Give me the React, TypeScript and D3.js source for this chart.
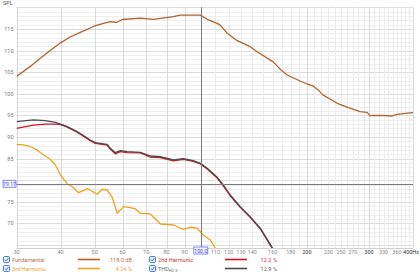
import React from "react";
import * as d3 from "d3";

// ---- data ----
const fundFreq = [30, 32.9, 35.1, 37.4, 40, 42.7, 45.5, 50, 53.6, 55.4, 57.6, 59.9, 67.4, 73.3, 83.6, 87.5, 99.7, 104.3, 111.3, 113.5, 118.9, 126.9, 138.1, 144.5, 160.5, 167.9, 175.8, 191.3, 200.3, 208.3, 215.2, 222.3, 232.7, 243.7, 260, 283, 296.3, 302, 322.5, 348.9, 360.3, 392, 400];
const fundDb = [104.0, 106.4, 108.3, 110.0, 111.8, 113.2, 114.2, 115.7, 116.4, 116.7, 116.5, 117.2, 117.5, 117.25, 117.85, 118.2, 118.2, 117.25, 116.3, 115.9, 114.0, 112.3, 110.9, 109.75, 107.4, 105.7, 104.35, 102.96, 102.27, 101.8, 100.9, 99.7, 98.8, 97.8, 96.9, 95.86, 95.7, 94.93, 95.0, 94.86, 95.25, 95.6, 95.65];

const thdFreq = [30, 33.5, 36.2, 38.7, 40, 41.8, 44.6, 48.6, 50.2, 51.9, 54.2, 55.4, 57.2, 59.1, 61.8, 67.4, 71.9, 76.8, 83.6, 89.2, 95.2, 99.7, 104.3, 111.3, 115.8, 121.2, 129.4, 138.1, 147.4, 157, 161];
const thdDb = [93.54, 93.94, 93.77, 93.4, 93.0, 92.38, 91.23, 89.31, 88.68, 88.54, 88.31, 87.38, 86.37, 86.83, 86.6, 86.46, 85.6, 85.44, 84.68, 84.98, 84.51, 83.91, 82.75, 80.67, 78.89, 76.57, 73.87, 71.55, 68.9, 65.3, 63.8];

const h2Freq = [30, 33.5, 36.2, 38.7, 40, 41.8, 44.6, 48.6, 50.2, 51.9, 54.2, 55.4, 57.2, 59.1, 61.8, 67.4, 71.9, 76.8, 83.6, 89.2, 95.2, 99.7, 104.3, 111.3, 115.8, 121.2, 129.4, 138.1, 147.4, 157, 161];
const h2Db = [92.0, 92.75, 93.0, 93.0, 92.85, 92.3, 91.1, 89.15, 88.5, 88.35, 88.1, 87.15, 86.1, 86.6, 86.4, 86.3, 85.35, 85.25, 84.5, 84.8, 84.35, 83.75, 82.6, 80.5, 78.7, 76.4, 73.7, 71.4, 68.75, 65.15, 63.7];

const h3Freq = [30, 31.4, 32.9, 34.3, 35.8, 37.4, 38.7, 40, 41.8, 43.2, 45.0, 47.8, 50.8, 52.5, 54.2, 56.0, 57.9, 59.1, 60.4, 63.1, 65.2, 67.4, 71.9, 76.8, 83.6, 89.2, 93.4, 97.7, 101.6, 106.4, 109.9];
const h3Db = [88.31, 88.15, 87.75, 87.0, 85.83, 84.84, 83.52, 81.2, 79.12, 78.5, 77.11, 78.03, 76.74, 77.9, 77.73, 76.18, 72.34, 73.1, 73.87, 73.63, 73.33, 72.34, 72.18, 69.86, 69.63, 68.63, 69.1, 68.87, 67.32, 66.16, 64.3];

const yTicks = [70, 75, 85, 90, 95, 100, 105, 110, 115];
const xTickLabels = [30, 40, 50, 60, 70, 80, 90, 110, 120, 130, 140, 160, 180, 200, 230, 250, 270, 300, 330, 360];
const xBoldTicks = [200, 300];
const majorX = [30, 40, 50, 60, 70, 80, 90, 100, 200, 300, 400];
const minorX = [110, 120, 130, 140, 150, 160, 170, 180, 190, 210, 220, 230, 240, 250, 260, 270, 280, 290, 310, 320, 330, 340, 350, 360, 370, 380, 390];
const cursorFreq = 100;
const cursorDb = 79.17;

const legendRows = [
  { name: "Fundamental", value: "118.0 dB", color: "#b3602c", text: "#b87048", col: 0, row: 0 },
  { name: "3rd Harmonic", value: "4.24 %", color: "#f2a11e", text: "#eea030", col: 0, row: 1 },
  { name: "2nd Harmonic", value: "12.2 %", color: "#d01620", text: "#d03040", col: 1, row: 0 },
  { name: "THD", value: "12.9 %", color: "#4a4a4a", text: "#666", col: 1, row: 1 },
];

const W = 420, H = 275;
const L = 16.5, R = 413, T = 7.4, B = 248;

export default function App() {
  const x = d3.scaleLog().domain([30, 400]).range([L, R]);
  const y = d3.scaleLinear().domain([64.3, 120]).range([B, T]);
  const line = d3.line<[number, number]>().x(d => x(d[0])).y(d => y(d[1]));
  const mk = (f: number[], v: number[]) => line(f.map((ff, i) => [ff, v[i]] as [number, number])) || "";

  const minorY: number[] = [];
  for (let v = 65; v <= 120; v++) if (v % 5 !== 0) minorY.push(v);
  const majorY: number[] = [];
  for (let v = 65; v <= 120; v += 5) majorY.push(v);

  const font = "Roboto, 'DejaVu Sans', sans-serif";

  return (
    <svg width={W} height={H} style={{ position: "absolute", left: 0, top: 0, background: "#fff" }} fontFamily={font}>
      <defs>
        <clipPath id="plot"><rect x={L} y={T - 1} width={R - L} height={B - T + 1} /></clipPath>
      </defs>
      <rect x={0} y={0} width={W} height={H} fill="#fff" />
      {/* grid */}
      {minorY.map(v => <line key={"my" + v} x1={L} x2={R} y1={Math.round(y(v)) + 0.5} y2={Math.round(y(v)) + 0.5} stroke="#efefef" />)}
      {majorY.map(v => <line key={"My" + v} x1={L} x2={R} y1={Math.round(y(v)) + 0.5} y2={Math.round(y(v)) + 0.5} stroke="#dcdcdc" />)}
      {minorX.map(v => <line key={"mx" + v} x1={Math.round(x(v)) + 0.5} x2={Math.round(x(v)) + 0.5} y1={T} y2={B} stroke="#ebebeb" />)}
      {majorX.map(v => <line key={"Mx" + v} x1={Math.round(x(v)) + 0.5} x2={Math.round(x(v)) + 0.5} y1={T} y2={B} stroke="#d9d9d9" />)}
      <line x1={L} x2={R} y1={B + 0.5} y2={B + 0.5} stroke="#d0d0d0" />

      {/* y labels */}
      <text x={3} y={5} fontSize={5.5} fill="#555">SPL</text>
      {yTicks.map(v => (
        <text key={"yt" + v} x={13.5} y={y(v) + 2} fontSize={5.5} fill="#777" textAnchor="end">{v}</text>
      ))}

      {/* x labels */}
      {xTickLabels.map(v => (
        <text key={"xt" + v} x={x(v)} y={253.5} fontSize={5.5} textAnchor="middle"
          fill={xBoldTicks.includes(v) ? "#333" : "#888"}>{v}</text>
      ))}
      <text x={419} y={253.5} fontSize={5.5} textAnchor="end" fill="#333">400Hz</text>

      {/* curves */}
      <g clipPath="url(#plot)" fill="none" strokeWidth={1.3} strokeLinejoin="round">
        <path d={mk(fundFreq, fundDb)} stroke="#b3602c" />
        <path d={mk(h3Freq, h3Db)} stroke="#f2a11e" />
        <path d={mk(h2Freq, h2Db)} stroke="#d01620" />
        <path d={mk(thdFreq, thdDb)} stroke="#4a4a4a" />
      </g>

      {/* cursor */}
      <line x1={Math.round(x(cursorFreq)) + 0.5} x2={Math.round(x(cursorFreq)) + 0.5} y1={T} y2={247} stroke="#7a7a7a" />
      <line x1={L} x2={R} y1={Math.round(y(cursorDb)) + 0.5} y2={Math.round(y(cursorDb)) + 0.5} stroke="#7a7a7a" />
      <rect x={3} y={y(cursorDb) - 3.5} width={13} height={7} fill="#f4f4ff" stroke="#6e6ef0" strokeWidth={0.8} />
      <text x={9.5} y={y(cursorDb) + 2} fontSize={5.2} fill="#4848e0" textAnchor="middle">{cursorDb.toFixed(2)}</text>
      <rect x={x(cursorFreq) - 7} y={247} width={14} height={7} fill="#f4f4ff" stroke="#6e6ef0" strokeWidth={0.8} />
      <text x={x(cursorFreq)} y={252.6} fontSize={5.2} fill="#4848e0" textAnchor="middle">{cursorFreq.toFixed(1)}</text>

      {/* legend */}
      {legendRows.map(r => {
        const bx = r.col === 0 ? 3 : 149;
        const by = r.row === 0 ? 256 : 265;
        const lx = r.col === 0 ? 78 : 225;
        const vx = r.col === 0 ? 132 : 277;
        return (
          <g key={r.name}>
            <rect x={bx + 0.5} y={by + 0.5} width={6} height={6} rx={1} fill="#e3eefc" stroke="#2f72d8" strokeWidth={0.9} />
            <path d={`M${bx + 2} ${by + 3.6} L${bx + 3.3} ${by + 5} L${bx + 5.4} ${by + 2}`} fill="none" stroke="#2f72d8" strokeWidth={0.9} />
            <text x={bx + 9} y={by + 5.6} fontSize={5.6} fill={r.text}>
              {r.name}
              {r.name === "THD" ? <tspan fontSize={4} dy={1.5}>H2-3</tspan> : null}
            </text>
            <line x1={lx} x2={lx + 22} y1={by + 3.5} y2={by + 3.5} stroke={r.color} strokeWidth={1.6} />
            <text x={vx} y={by + 5.6} fontSize={5.6} fill={r.text} textAnchor="end">{r.value}</text>
          </g>
        );
      })}
    </svg>
  );
}
